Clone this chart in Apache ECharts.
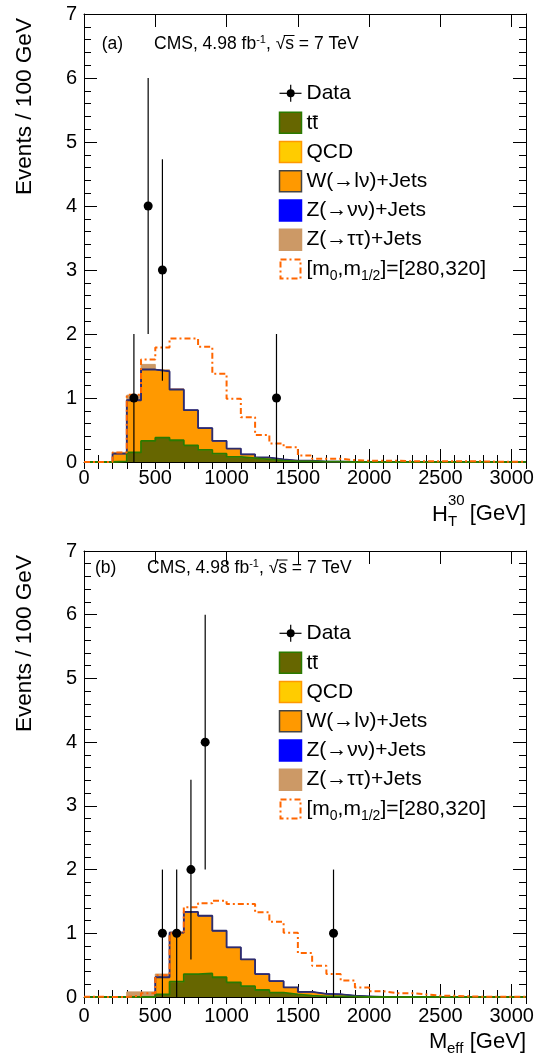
<!DOCTYPE html>
<html><head><meta charset="utf-8">
<script src="https://cdn.jsdelivr.net/npm/echarts@6/dist/echarts.min.js"></script>
<style>html,body{margin:0;padding:0;background:#fff}#c{width:539px;height:1056px}</style>
</head><body><div id="c"></div>
<script>
// ---------- data ----------
const binWidth = 100;           // GeV per bin, bins start at 0
const xMax = 3100;
const xTickLabels = ['0','500','1000','1500','2000','2500','3000'];
const yTickLabels = ['0','1','2','3','4','5','6','7'];
const legendLabels = ['Data','tt','QCD','W(→lν)+Jets','Z(→νν)+Jets','Z(→ττ)+Jets','{n|[m}{s|0}{n|,m}{s|1/2}{n|]=[280,320]}'];

// Panel (a): H_T^30
const ttbarA  = [0,0,0.01,0.15,0.33,0.38,0.34,0.26,0.19,0.13, 0.08,0.06,0.04,0.02,0.01,0.01,0.005,0.005,0,0, 0,0,0,0,0,0,0,0,0,0,0];
const qcdA    = [0,0,0,0.005,0.005,0.005,0,0,0,0, 0,0,0,0,0,0,0,0,0,0, 0,0,0,0,0,0,0,0,0,0,0];
const wjetsA  = [0,0,0.12,0.81,1.11,1.03,0.79,0.55,0.34,0.20, 0.13,0.06,0.03,0.02,0.01,0.01,0,0,0,0, 0,0,0,0,0,0,0,0,0,0,0];
const znnA    = [0,0,0,0,0,0.005,0.005,0,0,0, 0,0,0,0,0,0,0,0,0,0, 0,0,0,0,0,0,0,0,0,0,0];
const zttA    = [0,0.005,0.02,0.08,0.08,0.02,0.01,0,0,0, 0,0,0,0,0,0,0,0,0,0, 0,0,0,0,0,0,0,0,0,0,0];
const signalA = [0,0,0.15,1.05,1.60,1.79,1.93,1.93,1.80,1.38, 0.99,0.70,0.42,0.29,0.23,0.10,0.05,0.05,0.03,0.02, 0.02,0.02,0.01,0.01,0.01,0.01,0.01,0.01,0.005,0.005,0.005];
const dataXA   = [350,450,550,1350];
const dataYA   = [1,4,3,1];
const dataErrA = [1,2,1.73,1];

// Panel (b): M_eff
const ttbarB  = [0,0,0,0,0,0.04,0.24,0.36,0.37,0.31, 0.23,0.17,0.11,0.07,0.04,0.02,0.01,0.01,0.005,0, 0,0,0,0,0,0,0,0,0,0,0];
const qcdB    = [0,0,0,0,0,0,0,0.005,0.005,0, 0,0,0,0,0,0,0,0,0,0, 0,0,0,0,0,0,0,0,0,0,0];
const wjetsB  = [0,0,0,0,0,0.27,0.77,0.97,0.90,0.73, 0.55,0.42,0.25,0.18,0.11,0.06,0.04,0.03,0.015,0.01, 0,0,0,0,0,0,0,0,0,0,0];
const znnB    = [0,0,0,0,0,0,0,0,0,0, 0,0,0,0,0,0,0,0.005,0,0, 0,0,0,0,0,0,0,0,0,0,0];
const zttB    = [0,0,0,0.08,0.08,0.05,0.01,0,0,0, 0,0,0,0,0,0,0,0,0,0, 0,0,0,0,0,0,0,0,0,0,0];
const signalB = [0.005,0,0,0.02,0.06,0.34,1.00,1.41,1.47,1.51, 1.46,1.46,1.33,1.18,1.01,0.69,0.49,0.36,0.26,0.15, 0.09,0.06,0.06,0.04,0.02,0.02,0.01,0.005,0.005,0.005,0.005];
const dataXB   = [550,650,750,850,1750];
const dataYB   = [1,1,2,4,1];
const dataErrB = [1,1,1.41,2,1];

// ---------- helpers ----------
const FONT = "'Liberation Sans', Arial, Helvetica, sans-serif";
const C = {tt:'#666600', ttLine:'#2a7a00', qcd:'#ffcc00', qcdLine:'#ff9900', w:'#ff9900', wLine:'#2d2d6b',
           znn:'#0000ff', ztt:'#cc9966', sig:'#ff6600'};
const SIGDASH = [6,3,2,3];

function hist(arr){ const d = arr.map((v,i)=>[i*binWidth, v]); d.push([arr.length*binWidth, arr[arr.length-1]]); return d; }
function addArr(a,b){ return a.map((v,i)=>v+b[i]); }

const mctx = document.createElement('canvas').getContext('2d');
function tw(str,size){ mctx.font = size+'px '+FONT; return mctx.measureText(str).width; }

function panelSeries(g, tt, qcd, w, znn, ztt, sig, dx, dy, de){
  const c1 = tt, c2 = addArr(c1,qcd), c3 = addArr(c2,w), c4 = addArr(c3,znn), c5 = addArr(c4,ztt);
  const xi = 4*g, yi = 2*g;
  const layer = (name, data, fill, line, lw) => ({
    type:'line', name, xAxisIndex:xi, yAxisIndex:yi, step:'end', symbol:'none', silent:true,
    data:hist(data), areaStyle:{color:fill, opacity:1}, lineStyle:{color:line, width:lw}, z:2
  });
  return [
    layer('Z(→ττ)+Jets', c5, C.ztt, C.ztt, 1),
    layer('Z(→νν)+Jets', c4, C.znn, C.znn, 1),
    layer('W(→lν)+Jets', c3, C.w, C.wLine, 1.8),
    layer('QCD', c2, C.qcd, C.qcdLine, 1),
    layer('tt', c1, C.tt, C.ttLine, 1.8),
    {type:'line', name:'signal', xAxisIndex:xi, yAxisIndex:yi, step:'end', symbol:'none', silent:true,
     data:hist(sig), lineStyle:{color:C.sig, width:2, type:SIGDASH}, z:3},
    {type:'custom', name:'Data', xAxisIndex:xi, yAxisIndex:yi, z:5, silent:true,
     data: dx.map((x,i)=>[x, dy[i], de[i]]),
     renderItem(params, api){
       const x=api.value(0), y=api.value(1), e=api.value(2);
       const p=api.coord([x,y]), lo=api.coord([x,Math.max(0,y-e)]), hi=api.coord([x,y+e]);
       return {type:'group', children:[
         {type:'line', shape:{x1:p[0],y1:hi[1],x2:p[0],y2:lo[1]}, style:{stroke:'#000', lineWidth:1.2}},
         {type:'circle', shape:{cx:p[0],cy:p[1],r:4.5}, style:{fill:'#000'}}
       ]};
     }}
  ];
}

function xAxes(g, margin){
  const base = {type:'value', gridIndex:g, min:0, max:xMax, splitLine:{show:false}};
  const fmt = v => xTickLabels.indexOf(String(v))>=0 ? String(v) : '';
  return [
    Object.assign({}, base, {position:'bottom', interval:500,
      axisLine:{show:true,onZero:false,lineStyle:{color:'#000',width:1}},
      axisTick:{show:true,inside:true,length:13,lineStyle:{color:'#000',width:1}},
      axisLabel:{show:true,margin:margin,fontSize:20,color:'#000',fontFamily:FONT,formatter:fmt}}),
    Object.assign({}, base, {position:'bottom', interval:100,
      axisLine:{show:false}, axisTick:{show:true,inside:true,length:7,lineStyle:{color:'#000',width:1}},
      axisLabel:{show:false}}),
    Object.assign({}, base, {position:'top', interval:500,
      axisLine:{show:true,onZero:false,lineStyle:{color:'#000',width:1}},
      axisTick:{show:true,inside:true,length:13,lineStyle:{color:'#000',width:1}},
      axisLabel:{show:false}}),
    Object.assign({}, base, {position:'top', interval:100,
      axisLine:{show:false}, axisTick:{show:true,inside:true,length:7,lineStyle:{color:'#000',width:1}},
      axisLabel:{show:false}})
  ];
}
function yAxes(g){
  const base = {type:'value', gridIndex:g, min:0, max:7, interval:1, splitLine:{show:false},
    axisLine:{show:true,onZero:false,lineStyle:{color:'#000',width:1}},
    axisTick:{show:true,inside:true,length:13,lineStyle:{color:'#000',width:1}},
    minorTick:{show:true,splitNumber:5,length:7,lineStyle:{color:'#000',width:1}}};
  return [
    Object.assign({}, base, {position:'left', axisLabel:{show:true,margin:7,fontSize:20,color:'#000',fontFamily:FONT,
      formatter:v=>yTickLabels[Math.round(v)]}}),
    Object.assign({}, base, {position:'right', axisLabel:{show:false}})
  ];
}

function txt(x,y,text,size,opts){
  return Object.assign({type:'text', x, y, silent:true, z:20,
    style:{text, fontSize:size, fontFamily:FONT, fill:'#000', align:'left', verticalAlign:'middle'}}, opts||{});
}

function panelGraphics(oy, letter, labX, cmsX, labY, ytTop, xTitle){
  const els = [];
  els.push(txt(labX, labY, '('+letter+')', 17.5));
  els.push({type:'text', x:cmsX, y:labY, silent:true, z:20, style:{
    text:'{n|CMS, 4.98 fb}{s|-1}{n|, √s = 7 TeV}', fontFamily:FONT, fill:'#000', align:'left', verticalAlign:'middle',
    rich:{n:{fontSize:17.5, fontFamily:FONT, lineHeight:20}, s:{fontSize:11, fontFamily:FONT, lineHeight:11, verticalAlign:'top'}}}});
  const pre = tw('CMS, 4.98 fb',17.5) + tw('-1',11) + tw(', √',17.5);
  const sw = tw('s',17.5);
  els.push({type:'line', silent:true, z:20, shape:{x1:cmsX+pre-1.5, y1:labY-8.5, x2:cmsX+pre+sw+0.5, y2:labY-8.5}, style:{stroke:'#000', lineWidth:1}});
  els.push({type:'text', x:25, y:ytTop, rotation:Math.PI/2, silent:true, z:20,
    style:{text:'Events / 100 GeV', fontSize:22.6, fontFamily:FONT, fill:'#000', align:'right', verticalAlign:'middle'}});
  const lx=279.5, bw=22, bh=21, tx=306.5;
  const cy = [93.3,122.8,152,181.2,210.5,239.7,269].map(v=>v+oy);
  els.push({type:'line', silent:true, z:20, shape:{x1:lx, y1:cy[0], x2:lx+bw, y2:cy[0]}, style:{stroke:'#000', lineWidth:1.2}});
  els.push({type:'line', silent:true, z:20, shape:{x1:lx+11.2, y1:cy[0]-8.5, x2:lx+11.2, y2:cy[0]+8.5}, style:{stroke:'#000', lineWidth:1.2}});
  els.push({type:'circle', silent:true, z:21, shape:{cx:lx+11.2, cy:cy[0], r:4}, style:{fill:'#000'}});
  const boxes = [[C.tt,C.ttLine],[C.qcd,C.qcdLine],[C.w,'#444444'],[C.znn,C.znn],[C.ztt,C.ztt]];
  boxes.forEach((b,i)=>{
    els.push({type:'rect', silent:true, z:20, shape:{x:lx, y:cy[i+1]-bh/2, width:bw, height:bh}, style:{fill:b[0], stroke:b[1], lineWidth:1.5}});
  });
  els.push({type:'rect', silent:true, z:20, shape:{x:lx+1, y:cy[6]-bh/2+1, width:bw-2, height:bh-2}, style:{fill:'none', stroke:C.sig, lineWidth:2, lineDash:SIGDASH}});
  for (let i=0;i<6;i++) els.push(txt(tx, cy[i], legendLabels[i], 21));
  const tW = tw('t',21);
  els.push({type:'line', silent:true, z:20, shape:{x1:tx+tW+0.3, y1:cy[1]-6.5, x2:tx+2*tW-0.3, y2:cy[1]-6.5}, style:{stroke:'#000', lineWidth:1.3}});
  els.push({type:'text', x:tx, y:cy[6], silent:true, z:20, style:{text:legendLabels[6], fontFamily:FONT, fill:'#000', align:'left', verticalAlign:'middle',
    rich:{n:{fontSize:21, fontFamily:FONT, lineHeight:28}, s:{fontSize:14, fontFamily:FONT, lineHeight:12, verticalAlign:'bottom'}}}});
  xTitle.forEach(e=>els.push(e));
  return els;
}

const xTitleA = [
  txt(432, 514.5, 'H', 22),
  txt(448, 500.5, '30', 15),
  txt(448, 522, 'T', 15),
  txt(526, 514, '[GeV]', 22, {style:{text:'[GeV]', fontSize:22, fontFamily:FONT, fill:'#000', align:'right', verticalAlign:'middle'}})
];
const xTitleB = [
  txt(429, 1041.5, 'M', 22),
  txt(447, 1049, 'eff', 15),
  txt(526, 1041.5, '[GeV]', 22, {style:{text:'[GeV]', fontSize:22, fontFamily:FONT, fill:'#000', align:'right', verticalAlign:'middle'}})
];

const option = {
  animation:false,
  backgroundColor:'#ffffff',
  grid:[{left:84, top:14, width:442, height:448}, {left:84, top:551, width:442, height:446}],
  xAxis:[].concat(xAxes(0,6), xAxes(1,9)),
  yAxis:[].concat(yAxes(0), yAxes(1)),
  series:[].concat(
    panelSeries(0, ttbarA, qcdA, wjetsA, znnA, zttA, signalA, dataXA, dataYA, dataErrA),
    panelSeries(1, ttbarB, qcdB, wjetsB, znnB, zttB, signalB, dataXB, dataYB, dataErrB)
  ),
  graphic:{elements:[].concat(
    panelGraphics(0, 'a', 101.7, 154, 44, 18, xTitleA),
    panelGraphics(540, 'b', 95, 147, 568.5, 555, xTitleB)
  )}
};
const chart = echarts.init(document.getElementById('c'), null, {renderer:'canvas'});
chart.setOption(option);
</script></body></html>
